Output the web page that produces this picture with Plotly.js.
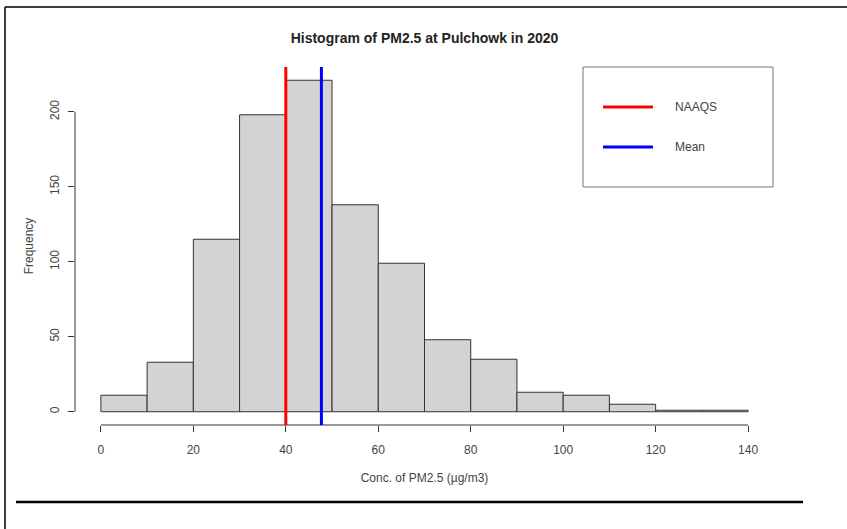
<!DOCTYPE html>
<html>
<head>
<meta charset="utf-8">
<script src="https://cdn.plot.ly/plotly-3.0.1.min.js"></script>
<style>
html,body{margin:0;padding:0;background:#fff;}
#chart{width:847px;height:529px;}
</style>
</head>
<body>
<div id="chart"></div>
<script>
// ---- data ----
var binEdges = [0,10,20,30,40,50,60,70,80,90,100,110,120,130,140];
var frequencies = [11,33,115,198,221,138,99,48,35,13,11,5,1,1];
var naaqsValue = 40;
var meanValue = 47.7;
var xTicks = [0,20,40,60,80,100,120,140];
var yTicks = [0,50,100,150,200];
var legendLabels = ["NAAQS","Mean"];
var legendColors = ["#FF0000","#0000FF"];

var W = 847, H = 529;
var M = {l:75, r:73, t:67, b:104};
var pw = W - M.l - M.r, ph = H - M.t - M.b;
function px(x){ return (x - M.l)/pw; }
function py(y){ return (H - M.b - y)/ph; }

var centers = [], widths = [];
for (var i = 0; i < frequencies.length; i++) {
  centers.push((binEdges[i] + binEdges[i+1]) / 2);
  widths.push(binEdges[i+1] - binEdges[i]);
}
var xmin = binEdges[0], xmax = binEdges[binEdges.length-1];
var ymax = Math.max.apply(null, frequencies);
var xpad = (xmax - xmin) * 0.04, ypad = ymax * 0.04;

var traces = [{
  type: 'bar',
  x: centers,
  y: frequencies,
  width: widths,
  marker: {color: '#D3D3D3', line: {color: '#333333', width: 1}},
  showlegend: false,
  hoverinfo: 'skip'
}];

var txt = {family: 'Liberation Sans, Arial, sans-serif', size: 12, color: '#444'};

var shapes = [
  // x axis line (first to last tick)
  {type:'line', xref:'x', yref:'paper', x0:xTicks[0], x1:xTicks[xTicks.length-1], y0:0, y1:0, line:{color:'#333', width:1}},
  // y axis line
  {type:'line', xref:'paper', yref:'y', x0:0, x1:0, y0:yTicks[0], y1:yTicks[yTicks.length-1], line:{color:'#333', width:1}},
  // reference lines
  {type:'line', xref:'x', yref:'paper', x0:naaqsValue, x1:naaqsValue, y0:0, y1:1, line:{color:legendColors[0], width:3}},
  {type:'line', xref:'x', yref:'paper', x0:meanValue, x1:meanValue, y0:0, y1:1, line:{color:legendColors[1], width:3}},
  // legend box
  {type:'rect', xref:'paper', yref:'paper', x0:px(583), x1:px(773), y0:py(187), y1:py(67), line:{color:'#777', width:1}, fillcolor:'rgba(0,0,0,0)'},
  {type:'line', xref:'paper', yref:'paper', x0:px(603), x1:px(653), y0:py(107), y1:py(107), line:{color:legendColors[0], width:3}},
  {type:'line', xref:'paper', yref:'paper', x0:px(603), x1:px(653), y0:py(147), y1:py(147), line:{color:legendColors[1], width:3}},
  // page frame
  {type:'line', xref:'paper', yref:'paper', x0:px(5), x1:px(847), y0:py(7), y1:py(7), line:{color:'#000', width:1.5}},
  {type:'line', xref:'paper', yref:'paper', x0:px(5), x1:px(5), y0:py(7), y1:py(529), line:{color:'#000', width:1.5}},
  {type:'line', xref:'paper', yref:'paper', x0:px(16), x1:px(803), y0:py(502), y1:py(502), line:{color:'#000', width:2.5}}
];

var annotations = [
  {xref:'paper', yref:'paper', x:px(673), y:py(107), xanchor:'left', yanchor:'middle', text:legendLabels[0], showarrow:false, font:txt},
  {xref:'paper', yref:'paper', x:px(673), y:py(147), xanchor:'left', yanchor:'middle', text:legendLabels[1], showarrow:false, font:txt}
];

var layout = {
  width: W, height: H,
  margin: M,
  paper_bgcolor: '#fff', plot_bgcolor: '#fff',
  showlegend: false,
  bargap: 0,
  font: txt,
  title: {
    text: '<b>Histogram of PM2.5 at Pulchowk in 2020</b>',
    font: {family: 'Liberation Sans, Arial, sans-serif', size: 14, color: '#222'},
    x: 0.5, xref: 'paper', xanchor: 'center',
    y: 1 - 38/H, yref: 'container', yanchor: 'middle'
  },
  xaxis: {
    range: [xmin - xpad, xmax + xpad],
    tickvals: xTicks, ticktext: xTicks.map(String),
    ticks: 'outside', ticklen: 6, tickcolor: '#333',
    ticklabelstandoff: 8,
    showline: false, showgrid: false, zeroline: false,
    tickfont: txt,
    title: {text: 'Conc. of PM2.5 (µg/m3)', font: txt, standoff: 17}
  },
  yaxis: {
    range: [-ypad, ymax + ypad],
    tickvals: yTicks, ticktext: yTicks.map(String),
    ticks: 'outside', ticklen: 6, tickcolor: '#333',
    tickangle: -90,
    ticklabelstandoff: 4,
    showline: false, showgrid: false, zeroline: false,
    tickfont: txt,
    title: {text: 'Frequency', font: txt, standoff: 12}
  },
  shapes: shapes,
  annotations: annotations
};

Plotly.newPlot('chart', traces, layout, {staticPlot: true, displayModeBar: false});
</script>
</body>
</html>
